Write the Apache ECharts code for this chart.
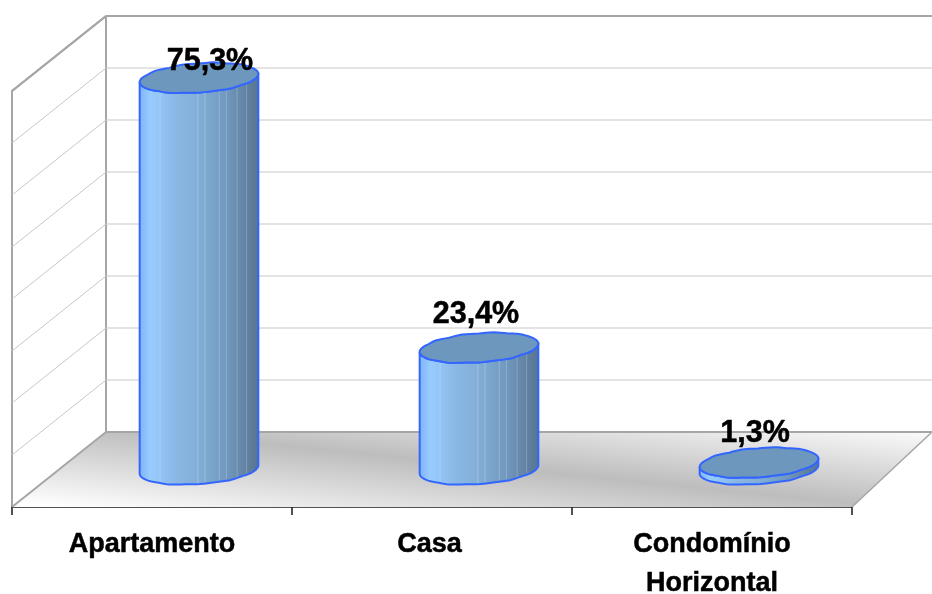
<!DOCTYPE html>
<html>
<head>
<meta charset="utf-8">
<style>html,body{margin:0;padding:0;background:#fff}#c{width:932px;height:594px}</style>
<script src="https://cdn.jsdelivr.net/npm/echarts@6/dist/echarts.min.js"></script>
</head>
<body>
<div id="c"></div>
<script>
const categories = ['Apartamento', 'Casa', 'Condomínio\nHorizontal'];
const values = [75.3, 23.4, 1.3];
const valueLabels = ['75,3%', '23,4%', '1,3%'];
const gridValues = [0, 10, 20, 30, 40, 50, 60, 70, 80];

// look of the fake 3D box and cylinders
const DX = 94, DY = 75, RIGHT_DX = 80;
const RX = 59.5, RY = 14.6, TILT = -4.3 * Math.PI / 180;
const WOBBLE = [1, .995, 1.01, .98, 1.025, .985, 1.0, .965, 1.015, .975, 1.0, .995, 1, .995, .975, 1.02, .97, 1.03, .975, 1.025, .975, 1.015, .995, .99];
const STEPS = 4;
const LABEL_SHIFT = [[11, -16], [-3, -33], [-4, -29]];
const FACETS = [.173, .49, .55, .67, .73, .82, .9];
const GRAY = '#a6a6a6', GRID = '#c8c8c8', BLUE = '#3366ff';
const FONT = 'bold 30.5px "Liberation Sans", Arial, sans-serif';
const LABEL_FONT = { fontFamily: '"Liberation Sans", Arial, sans-serif', fontWeight: 'bold', fontSize: 27, color: '#000', textBorderColor: '#000', textBorderWidth: .5, lineHeight: 39 };

function ellipse(cx, cy) {
  const m = WOBBLE.length, n = m * STEPS, pts = [];
  for (let i = 0; i < n; i++) {
    const t = i / n * 2 * Math.PI;
    const a = Math.floor(i / STEPS), f = (i % STEPS) / STEPS;
    const w = WOBBLE[a] * (1 - f) + WOBBLE[(a + 1) % m] * f;
    const ex = RX * Math.cos(t) * (1 + (w - 1) * Math.abs(Math.sin(t))), ey = RY * Math.sin(t) * w;
    pts.push([cx + ex * Math.cos(TILT) - ey * Math.sin(TILT), cy + ex * Math.sin(TILT) + ey * Math.cos(TILT)]);
  }
  return pts;
}

function renderFloor(params, api) {
  const c = params.coordSys;
  const x0 = c.x, x1 = c.x + c.width, yb = c.y + c.height;
  const pts = [[x0, yb], [x1, yb], [x1 + RIGHT_DX, yb - DY], [x0 + DX, yb - DY]];
  const mx = (x0 + DX + x1 + RIGHT_DX) / 2, my = yb - DY / 2;
  const grad = new echarts.graphic.LinearGradient(mx - 8.4, my + 83.6, mx + 8.4, my - 83.6, [
    { offset: 0, color: '#ffffff' },
    { offset: .5, color: '#bdbdbd' },
    { offset: 1, color: '#ffffff' }
  ], true);
  const line = (a, b, w) => ({
    type: 'line', shape: { x1: a[0], y1: a[1], x2: b[0], y2: b[1] },
    style: { stroke: GRAY, lineWidth: w }
  });
  return {
    type: 'group', children: [
      { type: 'polygon', shape: { points: pts }, style: { fill: grad } },
      line(pts[3], pts[2], 2),
      line(pts[1], pts[2], 1.5),
      line(pts[0], pts[3], 2),
      line([x0 + DX, c.y - DY], [x0 + DX, yb - DY], 2),
      line([x0, c.y], [x0 + DX, c.y - DY], 2)
    ]
  };
}

function renderGrid(params, api) {
  const c = params.coordSys;
  const y = api.coord([0, api.value(0)])[1];
  const x0 = c.x, x1 = c.x + c.width;
  const isEdge = api.value(0) === gridValues[0];
  const isTop = api.value(0) === gridValues[gridValues.length - 1];
  if (isEdge) return { type: 'group', children: [] };
  const color = isTop ? GRAY : GRID, w = isTop ? 2 : 1;
  return {
    type: 'group', children: [
      { type: 'line', shape: { x1: x0, y1: y, x2: x0 + DX, y2: y - DY }, style: { stroke: color, lineWidth: w } },
      { type: 'line', shape: { x1: x0 + DX, y1: y - DY, x2: x1 + RIGHT_DX, y2: y - DY }, style: { stroke: color, lineWidth: w } }
    ]
  };
}

function renderCylinder(params, api) {
  const idx = api.value(0);
  const base = api.coord([idx, 0]), top = api.coord([idx, api.value(1)]);
  const cx = base[0] + DX / 2, by = base[1] - DY / 2, ty = top[1] - DY / 2;
  const bot = ellipse(cx, by), cap = ellipse(cx, ty);
  const half = WOBBLE.length * STEPS / 2;
  const side = bot.slice(0, half + 1).concat(cap.slice(0, half + 1).reverse());
  const fill = new echarts.graphic.LinearGradient(0, 0, 1, 0, [
    { offset: 0, color: '#7fb4f5' },
    { offset: .09, color: '#99ccff' },
    { offset: .3, color: '#8ab8e6' },
    { offset: .5, color: '#82aed6' },
    { offset: .72, color: '#7299bf' },
    { offset: .92, color: '#5f7f9f' },
    { offset: 1, color: '#567590' }
  ]);
  const children = [
    { type: 'polygon', shape: { points: side }, style: { fill: fill, stroke: 'none' } }
  ];
  const sideH = by - ty;
  if (sideH > 20) {
    FACETS.forEach(f => {
      const x = cx - RX + 2 * RX * f;
      const dy = RY * Math.sqrt(Math.max(0, 1 - Math.pow((x - cx) / RX, 2))) - (x - cx) * .075;
      children.push({
        type: 'line', shape: { x1: x, y1: ty + dy, x2: x, y2: by + dy - 1 },
        style: { stroke: 'rgba(255,255,255,.22)', lineWidth: 1 }
      });
    });
  }
  children.push(
    { type: 'polygon', shape: { points: side }, style: { fill: 'none', stroke: BLUE, lineWidth: 2, lineJoin: 'round' } },
    { type: 'polygon', shape: { points: cap }, style: { fill: '#6e97bd', stroke: BLUE, lineWidth: 2, lineJoin: 'round' } },
    {
      type: 'text', z2: 10,
      style: {
        text: valueLabels[idx], x: cx + LABEL_SHIFT[idx][0], y: ty + LABEL_SHIFT[idx][1],
        align: 'center', verticalAlign: 'middle', font: FONT, fill: '#000',
        stroke: '#000', lineWidth: .5
      }
    }
  );
  return { type: 'group', children };
}

const chart = echarts.init(document.getElementById('c'), null, { renderer: 'canvas' });
chart.setOption({
  animation: false,
  backgroundColor: '#fff',
  grid: { left: 12, right: 80, top: 91, bottom: 87, outerBoundsMode: 'none', containLabel: false },
  xAxis: {
    type: 'category', data: categories,
    axisLine: { lineStyle: { color: '#1a1a1a', width: 1.5 } },
    axisTick: { show: true, alignWithLabel: false, length: 8, lineStyle: { color: '#1a1a1a', width: 1.5 } },
    axisLabel: Object.assign({
      interval: 0, margin: 18,
      formatter: v => v === categories[1] ? '{s|' + v + '}' : v,
      rich: { s: Object.assign({ padding: [0, 5, 0, 0] }, LABEL_FONT) }
    }, LABEL_FONT),
    splitLine: { show: false }
  },
  yAxis: {
    type: 'value', min: 0, max: 80, interval: 10,
    axisLine: { show: true, lineStyle: { color: GRAY, width: 2 } },
    axisTick: { show: false }, axisLabel: { show: false }, splitLine: { show: false }
  },
  series: [
    { type: 'custom', silent: true, clip: false, z: 1, data: [[0, 0]], encode: { x: 0, y: 1 }, renderItem: renderFloor },
    { type: 'custom', silent: true, clip: false, z: 2, data: gridValues.map(v => [v]), encode: { y: 0 }, renderItem: renderGrid },
    {
      type: 'custom', silent: true, clip: false, z: 3,
      data: values.map((v, i) => [i, v]), encode: { x: 0, y: 1 }, renderItem: renderCylinder
    }
  ]
});
</script>
</body>
</html>
